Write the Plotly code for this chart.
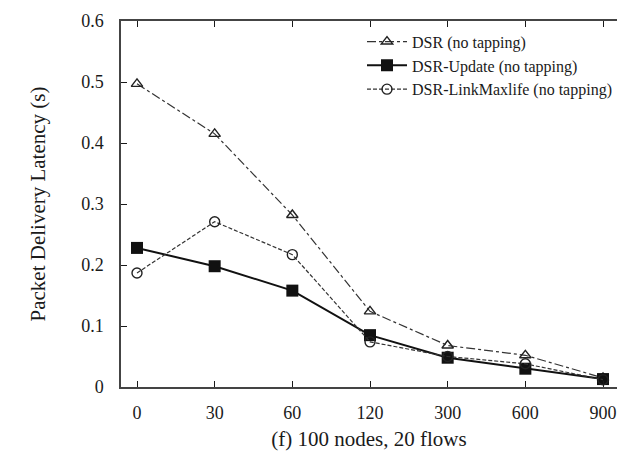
import plotly.graph_objects as go

categories = ["0", "30", "60", "120", "300", "600", "900"]
dsr = [0.497, 0.415, 0.282, 0.124, 0.068, 0.052, 0.015]
dsr_update = [0.228, 0.198, 0.158, 0.085, 0.048, 0.030, 0.013]
dsr_linkmaxlife = [0.187, 0.271, 0.217, 0.074, 0.050, 0.038, 0.012]
y_ticks = [0, 0.1, 0.2, 0.3, 0.4, 0.5, 0.6]
y_tick_labels = ["0", "0.1", "0.2", "0.3", "0.4", "0.5", "0.6"]

xi = list(range(len(categories)))
ink = "#1a1a1a"
font_family = "Liberation Serif, Times New Roman, serif"

fig = go.Figure()
fig.add_trace(go.Scatter(
    x=xi, y=dsr, mode="lines+markers", name="DSR (no tapping)",
    line=dict(color="#333333", width=1.2, dash="dashdot"),
    marker=dict(symbol="triangle-up-open", size=10, color="#222222", line=dict(width=1.4))))
fig.add_trace(go.Scatter(
    x=xi, y=dsr_update, mode="lines+markers", name="DSR-Update (no tapping)",
    line=dict(color="#111111", width=2),
    marker=dict(symbol="square", size=12, color="#111111")))
fig.add_trace(go.Scatter(
    x=xi, y=dsr_linkmaxlife, mode="lines+markers", name="DSR-LinkMaxlife (no tapping)",
    line=dict(color="#333333", width=1.2, dash="4px,2px"),
    marker=dict(symbol="circle-open", size=10, color="#222222", line=dict(width=1.4))))

fig.update_layout(
    width=617, height=451,
    margin=dict(l=121, r=0, t=21, b=64),
    paper_bgcolor="white", plot_bgcolor="white",
    font=dict(family=font_family, size=18, color=ink),
    showlegend=True,
    legend=dict(x=1.0, y=0.99, xanchor="right", yanchor="top",
                bgcolor="rgba(0,0,0,0)", font=dict(size=16),
                tracegroupgap=0, itemwidth=40),
    xaxis=dict(
        range=[-0.206, 6.18], tickmode="array", tickvals=xi, ticktext=categories,
        ticks="inside", ticklen=6, tickcolor=ink, showgrid=False, zeroline=False,
        showline=True, linecolor="#444444", linewidth=1.5, mirror="ticks",
        ticklabelstandoff=9,
        title=dict(text="(f) 100 nodes, 20 flows", font=dict(size=21), standoff=12)),
    yaxis=dict(
        range=[0, 0.6], tickmode="array", tickvals=y_ticks, ticktext=y_tick_labels,
        ticks="inside", ticklen=6, tickcolor=ink, showgrid=False, zeroline=False,
        showline=True, linecolor="#444444", linewidth=1.5, mirror=False,
        ticklabelstandoff=12,
        title=dict(text="Packet Delivery Latency (s)", font=dict(size=21), standoff=30)),
)

fig.write_html("out.html")
